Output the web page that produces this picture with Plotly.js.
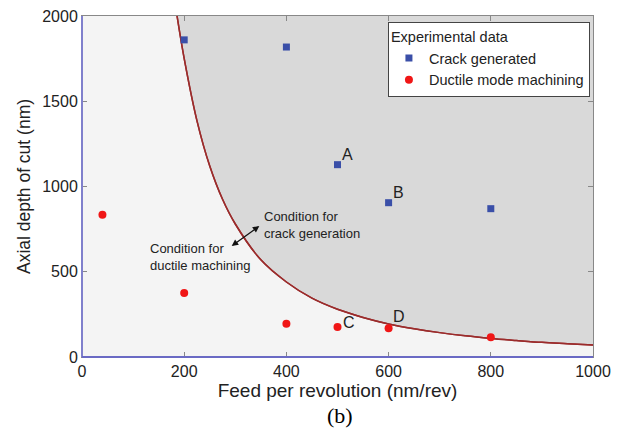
<!DOCTYPE html>
<html>
<head>
<meta charset="utf-8">
<script src="https://cdn.plot.ly/plotly-3.0.1.min.js"></script>
<style>html,body{margin:0;padding:0;background:#fff;}#chart{width:626px;height:446px;}</style>
</head>
<body>
<div id="chart"></div>
<script>
// Boundary curve
const curveX = [186, 200, 225, 250, 275, 300, 350, 400, 450, 500, 550, 600, 650, 700, 750, 800, 850, 900, 950, 1000];
const curveY = [2000, 1750, 1385, 1120, 925, 780, 570, 440, 345, 280, 232, 194, 166, 143, 124, 109, 97, 86, 78, 70];
const topX = [186, 1000];
const topY = [2000, 2000];

// Experimental data
const crackX = [200, 400, 500, 600, 800];
const crackY = [1860, 1818, 1128, 905, 870];
const ductileX = [40, 200, 400, 500, 600, 800];
const ductileY = [835, 375, 195, 176, 168, 116];

const pointLabels = ["A", "B", "C", "D"];
const labelX = [500, 600, 500, 600];
const labelY = [1128, 905, 176, 168];

const traces = [
  {x: curveX, y: curveY, mode: 'lines', line: {color: '#9b2c2c', width: 1.5, shape: 'spline'}, showlegend: false, hoverinfo: 'skip'},
  {x: topX, y: topY, mode: 'lines', line: {width: 0}, fill: 'tonexty', fillcolor: '#d9d9d9', showlegend: false, hoverinfo: 'skip'},
  {x: curveX, y: curveY, mode: 'lines', line: {color: '#9b2c2c', width: 1.5, shape: 'spline'}, showlegend: false, hoverinfo: 'skip'},
  {x: crackX, y: crackY, mode: 'markers', name: 'Crack generated', marker: {symbol: 'square', size: 7, color: '#3a4fa8'}},
  {x: ductileX, y: ductileY, mode: 'markers', name: 'Ductile mode machining', marker: {symbol: 'circle', size: 8, color: '#f01616'}}
];

const offs = [[10, -10], [10, -10], [11, -4], [10, -12]];
const annotations = pointLabels.map((t, i) => ({
  x: labelX[i], y: labelY[i], xref: 'x', yref: 'y', text: t, showarrow: false,
  xshift: offs[i][0], yshift: -offs[i][1], font: {family: 'Liberation Sans, Arial', size: 16, color: '#222'}
}));
annotations.push(
  {x: 450, y: 774, xref: 'x', yref: 'y', text: 'Condition for<br>crack generation', showarrow: false, align: 'left',
   font: {family: 'Liberation Sans, Arial', size: 13, color: '#222'}},
  {x: 231, y: 587, xref: 'x', yref: 'y', text: 'Condition for<br>ductile machining', showarrow: false, align: 'left',
   font: {family: 'Liberation Sans, Arial', size: 13, color: '#222'}},
  {x: 347, y: 768, ax: 290, ay: 645, xref: 'x', yref: 'y', axref: 'x', ayref: 'y', text: '', showarrow: true,
   arrowhead: 2, startarrowhead: 2, arrowside: 'end+start', arrowsize: 1, arrowwidth: 1.3, arrowcolor: '#111'},
  {x: 0.505, y: -0.214, xref: 'paper', yref: 'paper', text: '(b)', showarrow: false,
   font: {family: 'Liberation Serif, Times New Roman', size: 22, color: '#000'}}
);

const layout = {
  width: 626, height: 446,
  margin: {l: 81.5, r: 33, t: 16, b: 89},
  paper_bgcolor: '#ffffff', plot_bgcolor: '#f4f4f4',
  font: {family: 'Liberation Sans, Arial', color: '#222'},
  xaxis: {range: [0, 1000], tickvals: [0, 200, 400, 600, 800, 1000], showgrid: false, zeroline: false,
          ticks: 'inside', ticklen: 5, tickcolor: '#888', showline: true, linecolor: '#888', mirror: 'ticks',
          tickfont: {size: 16, color: '#222'},
          title: {text: 'Feed per revolution (nm/rev)', font: {size: 19, color: '#222'}, standoff: 2}},
  yaxis: {range: [0, 2000], tickvals: [0, 500, 1000, 1500, 2000], showgrid: false, zeroline: false,
          ticks: 'inside', ticklen: 5, tickcolor: '#888', showline: true, linecolor: '#888', mirror: 'ticks',
          tickfont: {size: 16, color: '#222'},
          title: {text: 'Axial depth of cut (nm)', font: {size: 17.5, color: '#222'}, standoff: 7}},
  legend: {x: 0.994, y: 0.982, xanchor: 'right', yanchor: 'top', bgcolor: '#ffffff', bordercolor: '#444', borderwidth: 1,
           traceorder: 'normal',
           font: {size: 14.5, color: '#222'}, title: {text: 'Experimental data', font: {size: 14.5, color: '#222'}},
           itemwidth: 30, tracegroupgap: 0},
  shapes: [
    {type: 'line', xref: 'paper', yref: 'paper', x0: 0, x1: 0, y0: 0, y1: 1, line: {color: '#8080cc', width: 2}},
    {type: 'line', xref: 'paper', yref: 'paper', x0: 0, x1: 1, y0: 0, y1: 0, line: {color: '#6a6ac4', width: 2}}
  ],
  annotations: annotations,
  showlegend: true
};

Plotly.newPlot('chart', traces, layout, {displayModeBar: false, staticPlot: true});
</script>
</body>
</html>
